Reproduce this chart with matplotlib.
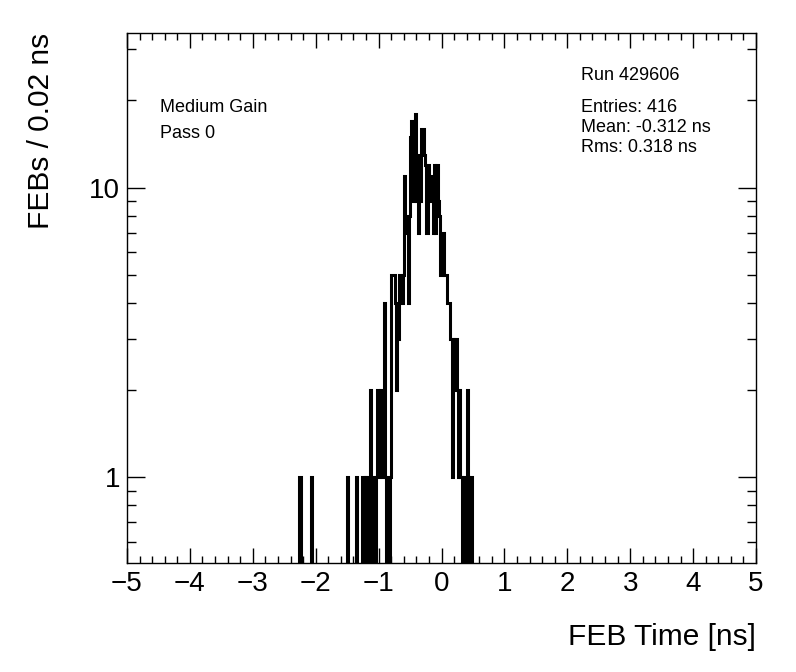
import matplotlib
matplotlib.use("Agg")
import matplotlib.pyplot as plt
import numpy as np
from matplotlib.ticker import LogLocator, MultipleLocator, NullFormatter, FixedLocator, FixedFormatter

plt.rcParams["font.family"] = ["Liberation Sans", "DejaVu Sans"]

# Histogram: 500 bins of 0.02 ns over [-5, 5]; counts listed from bin starting at -2.26 ns
x_min, x_max, bin_w = -5.0, 5.0, 0.02
first_bin_lo = -2.26
counts = [
    1, 0, 0, 0, 0, 0, 0, 0, 0,                      # -2.26 .. -2.10
    1,                                              # -2.08
    0, 0, 0, 0, 0, 0, 0, 0, 0, 0, 0, 0, 0, 0,
    0, 0, 0, 0, 0, 0, 0, 0, 0, 0, 0, 0, 0, 0,       # -2.06 .. -1.52
    1, 0, 0, 0, 0, 0, 0,                            # -1.50 .. -1.38
    1, 0, 0, 0, 0,                                  # -1.36 .. -1.28
    1, 0, 1, 0, 1, 0,                               # -1.26 .. -1.16
    2, 0, 1, 1, 0, 1,                               # -1.14 .. -1.04
    2, 1, 2, 1, 1,                                  # -1.02 .. -0.94
    4, 1, 0, 1, 0, 1,                               # -0.92 .. -0.82
    5, 5, 5, 4, 2, 3,                               # -0.80 .. -0.70
    5, 5, 4, 5,                                     # -0.68 .. -0.62
    11, 7, 8, 4, 8,                                 # -0.60 .. -0.52
    15, 17, 9, 17, 18,                              # -0.50 .. -0.42
    9, 7, 13, 9,                                    # -0.40 .. -0.34
    16, 16, 13, 12, 7,                              # -0.32 .. -0.24
    12, 9, 11, 10, 7,                               # -0.22 .. -0.14
    12, 7, 12, 9, 8, 5,                             # -0.12 .. -0.02
    5, 7, 5, 5, 4, 4, 4,                            # 0.00 .. 0.12
    3, 1, 3, 2, 3, 2, 1, 2,                         # 0.14 .. 0.28
    1, 0, 1, 1, 0, 2, 1, 0, 1,                      # 0.30 .. 0.46
]

run_label = "Run 429606"
stats_lines = ["Entries: 416", "Mean: -0.312 ns", "Rms: 0.318 ns"]
gain_label = "Medium Gain"
pass_label = "Pass 0"

edges = np.round(np.arange(x_min, x_max + bin_w / 2, bin_w), 4)
full = np.zeros(len(edges) - 1)
start = int(round((first_bin_lo - x_min) / bin_w))
full[start:start + len(counts)] = counts
shown = np.where(full > 0, full, 1e-3)   # empty bins drop below the frame

W, H = 796, 672
fig = plt.figure(figsize=(W / 100, H / 100), dpi=100)
ax = fig.add_axes([127 / W, 1 - 563 / H, (756 - 127) / W, (563 - 33) / H])

ax.stairs(shown, edges, color="black", linewidth=2.2, baseline=None)

ax.set_xlim(x_min, x_max)
ax.set_yscale("log")
ax.set_ylim(0.506, 34.2)

ax.xaxis.set_major_locator(MultipleLocator(1))
ax.xaxis.set_minor_locator(MultipleLocator(0.2))
ax.yaxis.set_major_locator(FixedLocator([1, 10]))
ax.yaxis.set_major_formatter(FixedFormatter(["1", "10"]))
ax.yaxis.set_minor_locator(LogLocator(base=10, subs=np.arange(2, 10)))
ax.yaxis.set_minor_formatter(NullFormatter())

ax.tick_params(axis="both", which="both", direction="in", top=True, right=True,
               width=1.0, labelsize=20)
ax.tick_params(axis="x", which="major", length=11, pad=6)
ax.tick_params(axis="x", which="minor", length=5.3)
ax.tick_params(axis="y", which="major", length=13, pad=5)
ax.tick_params(axis="y", which="minor", length=6.5)
for s in ax.spines.values():
    s.set_linewidth(1.0)

fig.text(756 / W, 1 - 637 / H, "FEB Time [ns]", ha="right", va="center", fontsize=21.5)
fig.text(41 / W, 1 - 33 / H, "FEBs / 0.02 ns", ha="center", va="top",
         rotation=90, fontsize=21.5)

fig.text(160 / W, 1 - 107 / H, gain_label, ha="left", va="center", fontsize=13)
fig.text(160 / W, 1 - 133 / H, pass_label, ha="left", va="center", fontsize=13)
fig.text(581 / W, 1 - 75 / H, run_label, ha="left", va="center", fontsize=13)
for i, line in enumerate(stats_lines):
    fig.text(581 / W, 1 - (108 + 19.5 * i) / H, line, ha="left", va="center", fontsize=13)

fig.savefig("out.png", dpi=100, facecolor="white")
